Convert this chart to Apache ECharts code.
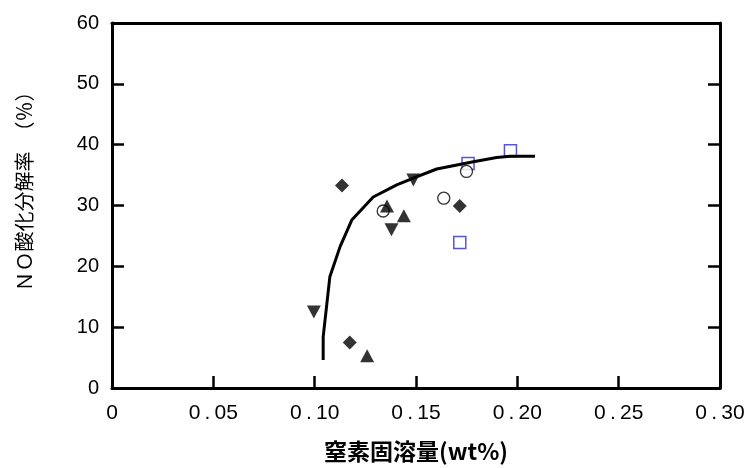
<!DOCTYPE html>
<html>
<head>
<meta charset="utf-8">
<title>NO酸化分解率</title>
<script src="https://cdn.jsdelivr.net/npm/echarts@6/dist/echarts.min.js"></script>
<style>
    html, body { margin: 0; padding: 0; background: #fff; }
    #main { width: 754px; height: 468px; }
</style>
</head>
<body>
<div id="main"></div>
<script>
// 軸の目盛
var xTicks = [0, 0.05, 0.10, 0.15, 0.20, 0.25, 0.30];
var yTicks = [0, 10, 20, 30, 40, 50, 60];

// 測定点 [窒素固溶量, NO酸化分解率]
var diamondPts = [[0.1135, 33.3], [0.1173, 7.5], [0.1716, 29.9]];
var triUpPts = [[0.1357, 29.9], [0.1440, 28.3], [0.1259, 5.3]];
var triDownPts = [[0.1487, 34.2], [0.1379, 26.0], [0.0996, 12.5]];
var circlePts = [[0.1338, 29.1], [0.1637, 31.2], [0.1749, 35.6]];
var squarePts = [[0.1757, 36.9], [0.1966, 39.0], [0.1716, 23.9]];

// 近似曲線
var curvePts = [
    [0.1042, 4.6], [0.1042, 8.4], [0.1075, 18.3], [0.1125, 23.2],
    [0.1183, 27.6], [0.1289, 31.4], [0.1405, 33.4], [0.1487, 34.5],
    [0.1602, 36.0], [0.1783, 37.2], [0.1898, 37.9], [0.1964, 38.1],
    [0.2087, 38.1]
];

var labelFont = 'Liberation Sans, Arial, sans-serif';
var cjkFont = 'Noto Sans CJK JP, sans-serif';

// 0.05 -> "0 . 05" (細いスペース)
function xLabel(v) {
    if (v === 0) {
        return '0';
    }
    return v.toFixed(2).replace('.', '\u2009.\u2009');
}

var chart = echarts.init(document.getElementById('main'), null, { renderer: 'canvas' });

var axisLine = { show: true, onZero: false, lineStyle: { color: '#000', width: 3 } };
var axisTick = { show: true, inside: true, length: 12, lineStyle: { color: '#000', width: 2.5 } };

var option = {
    animation: false,
    backgroundColor: '#fff',
    grid: { left: 112, right: 34, top: 23, bottom: 80 },
    xAxis: [
        {
            type: 'value',
            min: xTicks[0],
            max: xTicks[xTicks.length - 1],
            interval: 0.05,
            position: 'bottom',
            axisLine: axisLine,
            axisTick: axisTick,
            splitLine: { show: false },
            axisLabel: {
                margin: 15,
                fontSize: 21,
                fontFamily: labelFont,
                color: '#000',
                formatter: xLabel
            },
            name: '窒素固溶量(wt%)',
            nameLocation: 'middle',
            nameGap: 52,
            nameTextStyle: {
                fontSize: 23,
                fontFamily: cjkFont,
                fontWeight: 'bold',
                color: '#000'
            }
        },
        {
            type: 'value',
            min: xTicks[0],
            max: xTicks[xTicks.length - 1],
            position: 'top',
            axisLine: axisLine,
            axisTick: { show: false },
            axisLabel: { show: false },
            splitLine: { show: false }
        }
    ],
    yAxis: [
        {
            type: 'value',
            min: yTicks[0],
            max: yTicks[yTicks.length - 1],
            interval: 10,
            position: 'left',
            axisLine: axisLine,
            axisTick: axisTick,
            splitLine: { show: false },
            axisLabel: {
                margin: 13,
                fontSize: 20,
                fontFamily: labelFont,
                color: '#000'
            },
            name: 'ＮＯ酸化分解率　（％）',
            nameLocation: 'middle',
            nameGap: 78,
            nameTextStyle: {
                fontSize: 20,
                fontFamily: cjkFont,
                color: '#000',
                padding: [0, 0, 0, 38]
            }
        },
        {
            type: 'value',
            min: yTicks[0],
            max: yTicks[yTicks.length - 1],
            interval: 10,
            position: 'right',
            axisLine: axisLine,
            axisTick: axisTick,
            axisLabel: { show: false },
            splitLine: { show: false }
        }
    ],
    series: [
        {
            type: 'scatter',
            data: squarePts,
            symbol: 'rect',
            symbolSize: 12,
            itemStyle: { color: 'rgba(255,255,255,0)', borderColor: '#2a2ad2', borderWidth: 1.5 }
        },
        {
            type: 'line',
            data: curvePts,
            symbol: 'none',
            smooth: false,
            lineStyle: { color: '#000', width: 3 }
        },
        {
            type: 'scatter',
            data: circlePts,
            symbol: 'circle',
            symbolSize: 12,
            itemStyle: { color: '#fff', borderColor: '#000', borderWidth: 1.3 }
        },
        {
            type: 'scatter',
            data: diamondPts,
            symbol: 'diamond',
            symbolSize: 14,
            itemStyle: { color: '#000' }
        },
        {
            type: 'scatter',
            data: triUpPts,
            symbol: 'triangle',
            symbolSize: [14, 13],
            itemStyle: { color: '#000' }
        },
        {
            type: 'scatter',
            data: triDownPts,
            symbol: 'triangle',
            symbolRotate: 180,
            symbolSize: [14, 13],
            itemStyle: { color: '#000' }
        }
    ]
};

chart.setOption(option);
</script>
</body>
</html>
